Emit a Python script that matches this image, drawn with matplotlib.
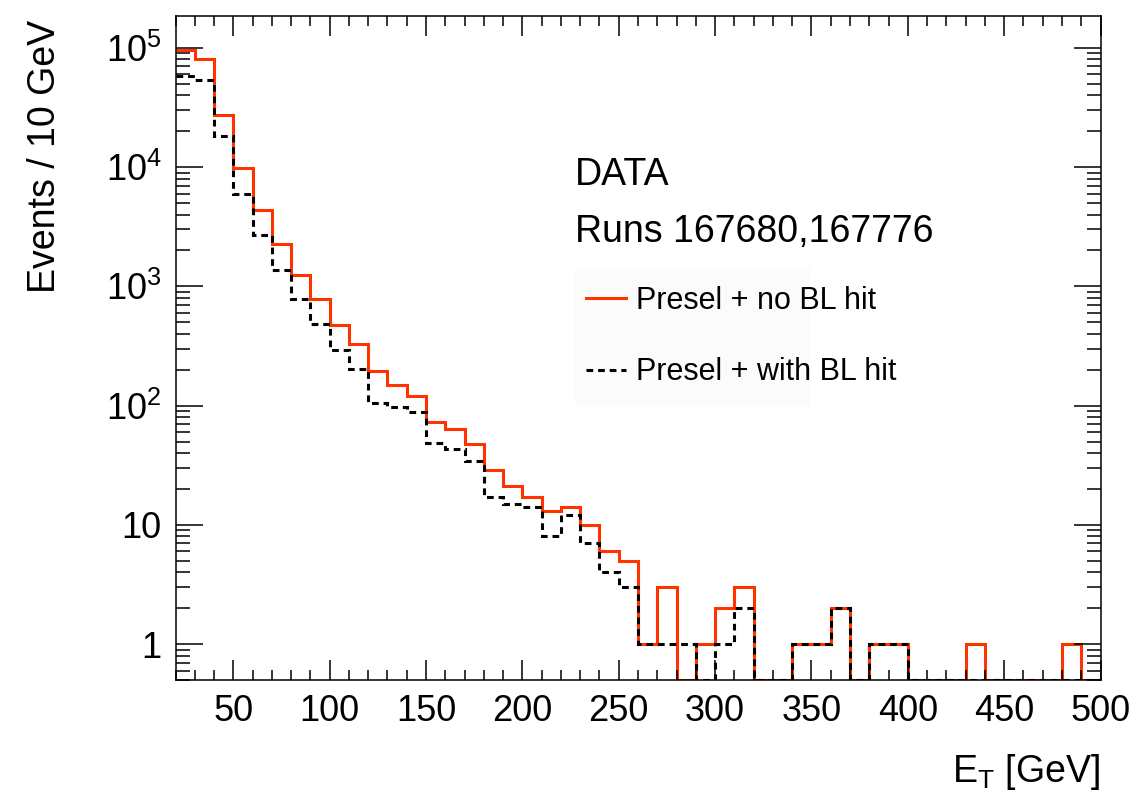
import numpy as np
import matplotlib as mpl
mpl.use('Agg')
import matplotlib.pyplot as plt
from matplotlib.patches import Rectangle
from matplotlib.ticker import FixedLocator, MultipleLocator, LogLocator, NullFormatter, FuncFormatter

# 10 GeV bins from 20 to 500 GeV
bin_edges = np.arange(20, 501, 10)

# Presel + no BL hit
no_bl_hit = [96000, 81000, 27500, 9750, 4400, 2270, 1250, 783, 476, 326,
             197, 150, 120, 73, 64, 48, 29, 21, 17, 13,
             14, 10, 6, 5, 1, 3, 0, 1, 2, 3,
             0, 0, 1, 1, 2, 0, 1, 1, 0, 0,
             0, 1, 0, 0, 0, 0, 1, 0]

# Presel + with BL hit
with_bl_hit = [58000, 54000, 18300, 5960, 2700, 1370, 785, 485, 290, 204,
               106, 98, 88, 49, 43, 34, 17, 15, 14, 8,
               12, 7, 4, 3, 1, 1, 1, 0, 1, 2,
               0, 0, 1, 1, 2, 0, 1, 1, 0, 0,
               0, 0, 0, 0, 0, 0, 0, 0]

labels = ['Presel + no BL hit', 'Presel + with BL hit']
y_min, y_max = 0.5, 1.87e5

plt.rcParams['font.family'] = ['Liberation Sans', 'DejaVu Sans']
plt.rcParams['mathtext.fontset'] = 'custom'
plt.rcParams['mathtext.rm'] = 'Liberation Sans'
plt.rcParams['mathtext.it'] = 'Liberation Sans:italic'

W, H = 1135, 793
fig = plt.figure(figsize=(W / 100, H / 100), dpi=100)
ax = fig.add_axes([175.5 / W, 1 - 680 / H, (1100.5 - 175.5) / W, (680 - 15.5) / H])

# faint legend box as in the ROOT canvas
ax.add_patch(Rectangle((575 / W, 1 - 405 / H), 235 / W, 137 / H, transform=fig.transFigure,
                       facecolor='#fbfbfb', edgecolor='none', zorder=0.5))

# empty bins sit on the bottom of the frame, like ROOT does
red = np.maximum(np.array(no_bl_hit, dtype=float), y_min)
blk = np.maximum(np.array(with_bl_hit, dtype=float), y_min)
ax.stairs(red, bin_edges, baseline=None, color='#ff3300', lw=2.2, label=labels[0])
ax.stairs(blk, bin_edges, baseline=None, color='black', lw=2.2,
          linestyle=(0, (2.2, 1.6)), label=labels[1])

ax.set_yscale('log')
ax.set_xlim(20, 500)
ax.set_ylim(y_min, y_max)

ax.xaxis.set_major_locator(MultipleLocator(50))
ax.xaxis.set_minor_locator(MultipleLocator(10))
ax.yaxis.set_major_locator(FixedLocator([1, 10, 100, 1e3, 1e4, 1e5]))
ax.yaxis.set_minor_locator(LogLocator(base=10, subs=np.arange(2, 10)))
ax.yaxis.set_minor_formatter(NullFormatter())


def ylab(v, pos):
    e = int(round(np.log10(v)))
    if e < 2:
        return str(int(v))
    return '$10^{%d}$' % e


ax.yaxis.set_major_formatter(FuncFormatter(ylab))

ax.tick_params(which='both', direction='in', top=True, right=True, width=1.1, labelsize=26)
ax.tick_params(axis='x', which='major', length=14.4, pad=10)
ax.tick_params(axis='x', which='minor', length=7.2)
ax.tick_params(axis='y', which='major', length=19.5, pad=10)
ax.tick_params(axis='y', which='minor', length=10)
for s in ax.spines.values():
    s.set_linewidth(1.1)

fig.text(45 / W, 1 - 20 / H, 'Events / 10 GeV', rotation=90, ha='center', va='top', fontsize=27)
fig.text(1100 / W, 1 - 782 / H, r'E$_{\mathrm{T}}$ [GeV]', ha='right', va='baseline', fontsize=27)

fig.text(575 / W, 1 - 185 / H, 'DATA', ha='left', va='baseline', fontsize=27)
fig.text(575 / W, 1 - 242 / H, 'Runs 167680,167776', ha='left', va='baseline', fontsize=27)

ax.legend(loc='upper left', bbox_to_anchor=(586 / W, 1 - 286 / H), bbox_transform=fig.transFigure,
          frameon=False, fontsize=22, handlelength=1.3, handletextpad=0.35,
          labelspacing=1.35, borderpad=0, borderaxespad=0)

fig.savefig('out.png', dpi=100)
